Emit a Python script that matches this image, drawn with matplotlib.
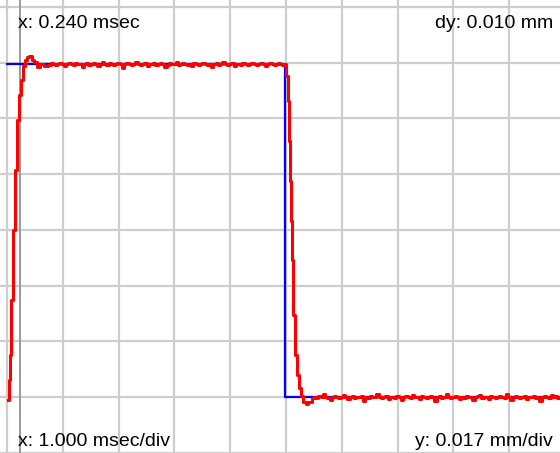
import matplotlib
matplotlib.use("Agg")
import matplotlib.pyplot as plt
import numpy as np

# scope settings (mm per division, msec per division)
y_div = 0.017
x_div = 1.0
cursor_x = 0.240

# reference (command) square wave
cmd_t = [0.0, 4.98, 4.98, 9.95]
cmd_y = [0.1016, 0.1016, 0.0, 0.0]

# measured response: rising edge with overshoot
rise_t = [0.018, 0.036, 0.054, 0.090, 0.125, 0.161, 0.197, 0.233, 0.269, 0.305,
          0.341, 0.376, 0.430, 0.466, 0.502, 0.556, 0.627, 0.699, 0.771]
rise_y = [-0.0009, 0.0052, 0.0128, 0.0296, 0.0510, 0.0693, 0.0845, 0.0922, 0.0967, 0.1010,
          0.1028, 0.1038, 0.1041, 0.1028, 0.1022, 0.1007, 0.1016, 0.1010, 0.1013]

# falling edge with undershoot
fall_t = [4.93, 4.982, 5.018, 5.036, 5.054, 5.072, 5.090, 5.108, 5.143, 5.179,
          5.215, 5.251, 5.287, 5.323, 5.376, 5.430, 5.484]
fall_y = [0.1012, 0.1016, 0.0980, 0.0903, 0.0781, 0.0659, 0.0537, 0.0419, 0.0250, 0.0128,
          0.0067, 0.0027, 0.0003, -0.0015, -0.0021, -0.0015, -0.0003]

# noise on the plateaus, in counts (1 count ~ 0.0003 mm), sampled every 0.04 msec
count = 0.000305
hi_start, lo_start, dt = 0.80, 5.52, 0.04
hi_level, lo_level = 0.1016, 0.0
hi_noise = [1, 0, -1, 0, 1, 0, -2, 0, 1, 0, -1, 1, 0, 0, -3, 0, 1, -1, 0, 1,
            0, -2, 0, 2, 0, -1, 1, 0, -1, 0, 1, 0, -4, 0, 1, 0, -1, 0, 2, 0,
            -1, 0, 1, -2, 0, 0, 1, -1, 0, 1, 0, -3, -1, 1, 0, 0, 2, -1, 0, 1,
            0, -1, 0, -2, 1, 0, -1, 0, 1, 0, -1, 0, -3, 0, 1, -1, 0, 2, 0, -1,
            0, 1, -2, 0, 0, -1, 1, 0, -1, 0, 1, 0, -1, 0, 1, 0, -2, 0, 1, 0,
            -1, 0, 1, 0]
lo_noise = [0, -1, 1, 0, 3, 0, -1, -3, 0, 1, 0, -1, 0, 2, 0, -2, 0, 1, -1, 0,
            0, 1, -4, 0, -1, 1, 0, 0, 3, 0, -1, 0, 1, -2, 0, 0, -1, 1, 0, -3,
            0, 1, 0, -1, 2, 0, 0, -2, 1, 0, -1, 0, 1, 0, -4, 0, 1, -1, 0, 3,
            0, -1, 0, 1, 0, -2, 0, -1, 1, 0, 0, -3, 0, 1, 2, -1, 0, 0, -2, 1,
            0, -1, 0, 1, 0, -1, 3, 0, -3, 0, 1, 0, -1, 0, 1, -2, 0, 0, 1, -1,
            0, -4, 0, 1, 0, -1, 2, 0, 1, -1, 0]

hi_t = hi_start + dt * np.arange(len(hi_noise))
hi_y = hi_level + count * np.array(hi_noise)
lo_t = lo_start + dt * np.arange(len(lo_noise))
lo_y = lo_level + count * np.array(lo_noise)

resp_t = np.concatenate([rise_t, hi_t, fall_t, lo_t])
resp_y = np.concatenate([rise_y, hi_y, fall_y, lo_y])

fig = plt.figure(figsize=(5.6, 4.53), dpi=100)
ax = fig.add_axes([0, 0, 1, 1])
ax.set_xlim(-0.1254, 9.910)
ax.set_ylim(-0.01708, 0.1211)

# grid
for i in range(0, 11):
    ax.axvline(i * x_div, color='#cdcdcd', lw=1.6, zorder=0)
for j in range(-1, 8):
    ax.axhline(j * y_div, color='#cdcdcd', lw=1.6, zorder=0)
ax.axvline(cursor_x, color='#9a9a9a', lw=1.4, zorder=1)

ax.plot(cmd_t, cmd_y, color='#0000ff', lw=1.6, zorder=2)
ax.plot(resp_t, resp_y, color='#ff0000', lw=2.2, drawstyle='steps-mid', zorder=3)

ax.set_xticks([])
ax.set_yticks([])
for s in ax.spines.values():
    s.set_visible(False)

font = dict(family='Liberation Sans', size=14, color='black')
fig.text(18 / 560, 1 - 23 / 453, 'x: %.3f msec' % cursor_x, ha='left', va='center', **font)
fig.text(553 / 560, 1 - 23 / 453, 'dy: 0.010 mm', ha='right', va='center', **font)
fig.text(18 / 560, 1 - 441 / 453, 'x: %.3f msec/div' % x_div, ha='left', va='center', **font)
fig.text(553 / 560, 1 - 441 / 453, 'y: %.3f mm/div' % y_div, ha='right', va='center', **font)

fig.savefig('out.png', dpi=100)
